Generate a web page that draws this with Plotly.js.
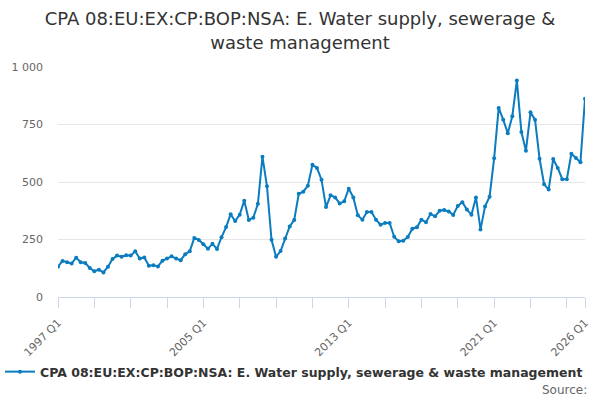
<!DOCTYPE html>
<html>
<head>
<meta charset="utf-8">
<script src="https://cdn.plot.ly/plotly-3.0.1.min.js"></script>
<style>html,body{margin:0;padding:0;background:#fff;}#chart{width:600px;height:400px;}</style>
</head>
<body>
<div id="chart"></div>
<script>
const seriesName = "CPA 08:EU:EX:CP:BOP:NSA: E. Water supply, sewerage & waste management";
const startYear = 1997;
const values = [
  132,157,151,146,171,151,148,126,112,119,107,132,165,180,175,181,
  180,199,167,172,136,138,133,158,167,177,167,160,186,199,257,248,
  229,210,231,209,260,304,360,330,358,419,335,345,405,610,481,249,
  175,200,254,307,335,449,458,484,575,561,510,391,442,433,407,416,
  471,433,355,336,370,370,336,314,322,322,262,242,245,261,297,303,
  336,325,361,351,375,378,372,357,396,412,380,358,433,294,394,436,
  603,822,771,712,786,941,717,636,803,771,601,490,467,600,561,512,
  512,623,604,586,862
];
const categories = values.map((v, i) => (startYear + Math.floor(i / 4)) + " Q" + (i % 4 + 1));
const labelledTicks = ["1997 Q1", "2005 Q1", "2013 Q1", "2021 Q1", "2026 Q1"];
const yTicks = [0, 250, 500, 750, 1000];

const tickVals = categories.filter((c, i) => i % 8 === 0 || i === categories.length - 1);
const tickText = tickVals.map(c => labelledTicks.includes(c) ? c : "");

const trace = {
  x: categories,
  y: values,
  type: "scatter",
  mode: "lines+markers",
  name: seriesName,
  line: {color: "#0a7cbf", width: 2},
  marker: {color: "#0a7cbf", size: 4},
  hoverinfo: "x+y"
};

const layout = {
  width: 600, height: 400,
  paper_bgcolor: "#fff", plot_bgcolor: "#fff",
  separators: ". ",
  font: {family: "DejaVu Sans, sans-serif", color: "#333"},
  title: {
    text: "CPA 08:EU:EX:CP:BOP:NSA: E. Water supply, sewerage &amp;<br>waste management",
    font: {size: 18, color: "#333", family: "DejaVu Sans, sans-serif"},
    x: 0.5, xanchor: "center", y: 0.937, yanchor: "top"
  },
  margin: {l: 58, r: 15, t: 67, b: 103},
  showlegend: true,
  legend: {
    orientation: "h", x: 0.49, xanchor: "center", xref: "container",
    y: 0.07, yref: "container", yanchor: "middle",
    font: {size: 12.5, color: "#333", family: "DejaVu Sans, sans-serif", weight: "bold"}
  },
  xaxis: {
    type: "category",
    range: [0, categories.length - 1],
    tickmode: "array", tickvals: tickVals, ticktext: tickText,
    tickangle: -45,
    ticks: "outside", ticklen: 10, tickcolor: "#ccd6eb", tickwidth: 1,
    ticklabelstandoff: 4,
    showline: true, linecolor: "#ccd6eb", linewidth: 1,
    showgrid: false, zeroline: false,
    tickfont: {size: 11, color: "#666", family: "DejaVu Sans, sans-serif"}
  },
  yaxis: {
    range: [0, 1000],
    tickmode: "array", tickvals: yTicks,
    tickformat: ",d",
    showgrid: true, gridcolor: "#e6e6e6", gridwidth: 1,
    zeroline: false, showline: false,
    ticks: "", ticklabelstandoff: 14,
    tickfont: {size: 11, color: "#666", family: "DejaVu Sans, sans-serif"}
  },
  annotations: [{
    text: "Source:", xref: "paper", yref: "paper", x: 1.0076, y: -0.404,
    xanchor: "right", yanchor: "middle", showarrow: false,
    font: {size: 12, color: "#666", family: "DejaVu Sans, sans-serif"}
  }]
};

Plotly.newPlot("chart", [trace], layout, {displayModeBar: false, staticPlot: true});
</script>
</body>
</html>
